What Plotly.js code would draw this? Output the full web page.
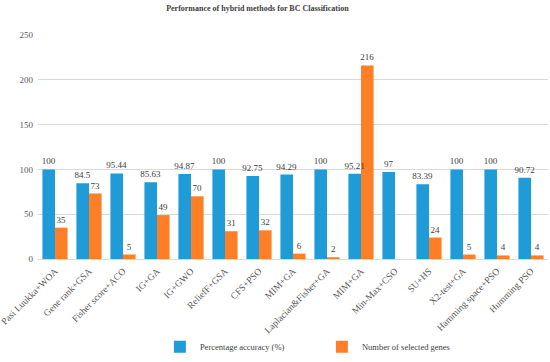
<!DOCTYPE html>
<html><head><meta charset="utf-8">
<script src="https://cdn.plot.ly/plotly-3.0.1.min.js"></script>
<style>html,body{margin:0;padding:0;background:#fff}#chart{width:550px;height:362px}</style>
</head><body><div id="chart"></div>
<script>
const methods = ["Pasi Luukka+WOA","Gene rank+GSA","Fisher score+ACO","IG+GA","IG+GWO","ReliefF+GSA","CFS+PSO","MIM+GA","Laplacian&Fisher+GA","MIM+GA","Min-Max+CSO","SU+HS","X2-test+GA","Hamming space+PSO","Humming PSO"];
const accuracy = [100,84.5,95.44,85.63,94.87,100,92.75,94.29,100,95.21,97,83.39,100,100,90.72];
const genes = [35,73,5,49,70,31,32,6,2,216,null,24,5,4,4];
const idx = methods.map((m,i)=>i);
const font = "Liberation Serif, DejaVu Serif, serif";
const bw = 0.37;
const data = [
 {type:'bar', name:'Number of selected genes', x:idx, y:genes, width:bw, offset:0, marker:{color:'#FF7F27'},
  text:genes.map(v=>v==null?'':String(v)), textposition:'outside', constraintext:'none', cliponaxis:false, textfont:{size:9,color:'#404040',family:font}},
 {type:'bar', name:'Percentage accuracy (%)', x:idx, y:accuracy, width:bw, offset:-bw, marker:{color:'#1F9BD7'},
  text:accuracy.map(String), textposition:'outside', constraintext:'none', cliponaxis:false, textfont:{size:9,color:'#404040',family:font}}
];
const layout = {
 width:550, height:362, margin:{l:38,r:2,t:35,b:102},
 paper_bgcolor:'#fff', plot_bgcolor:'#fff',
 font:{family:font, size:9, color:'#595959'},
 title:{text:'<b>Performance of hybrid methods for BC Classification</b>', xref:'container', x:0.468, xanchor:'center', yref:'container', y:0.985, yanchor:'top', font:{size:8,color:'#404040',family:font}},
 barmode:'overlay',
 xaxis:{tickvals:idx, ticktext:methods, tickangle:-45, showgrid:false, zeroline:false, showline:true, linecolor:'#d9d9d9', ticks:'', range:[-0.5,14.5], tickfont:{size:9.5,color:'#595959'}, ticklabeloverflow:'allow', ticklabelstandoff:2, automargin:false},
 yaxis:{range:[0,250], dtick:50, showgrid:true, gridcolor:'#d9d9d9', zeroline:false, showline:false, ticks:'', tickfont:{size:9,color:'#595959'}, ticklabelstandoff:4, automargin:false},
 showlegend:true,
 legend:{orientation:'h', traceorder:'reversed', x:0.239, xanchor:'left', y:-0.385, yanchor:'middle', entrywidth:117, entrywidthmode:'pixels', bgcolor:'rgba(0,0,0,0)', font:{size:8.5,color:'#404040',family:font}, itemwidth:30}
};
Plotly.newPlot('chart', data, layout, {displayModeBar:false, staticPlot:true});
</script></body></html>
